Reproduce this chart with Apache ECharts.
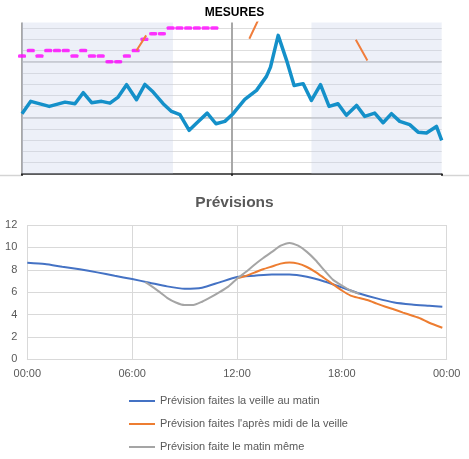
<!DOCTYPE html>
<html>
<head>
<meta charset="utf-8">
<script src="https://cdn.jsdelivr.net/npm/echarts@6/dist/echarts.min.js"></script>
<style>
html,body{margin:0;padding:0;background:#fff;}
#c{width:469px;height:459px;}
</style>
</head>
<body>
<div id="c"></div>
<script>
// ---------- MESURES (top) ----------
const mesureHeures = [0,0.5,1.56,2.46,3.03,3.5,3.98,4.55,5.03,5.5,5.98,6.55,7.03,7.5,8.07,8.55,9.03,9.56,10.11,10.59,11.09,11.6,12.07,12.74,13.41,13.98,14.21,14.65,15.13,15.56,16.08,16.55,17.07,17.56,18.07,18.55,19.13,19.6,20.17,20.65,21.13,21.6,22.17,22.65,23.13,23.7,24];
const mesureValeurs = [5.36,6.46,6.01,6.39,6.25,7.23,6.34,6.46,6.30,6.84,7.95,6.61,7.97,7.29,6.25,5.56,5.27,3.87,4.70,5.41,4.46,4.67,5.36,6.63,7.44,8.69,9.52,12.35,10.12,7.88,8.04,6.54,7.95,6.01,6.25,5.21,6.10,5.12,5.41,4.55,5.36,4.67,4.38,3.71,3.63,4.22,2.97];
const rafaleHeures = [0,0.5,1,1.5,2,2.5,3,3.5,4,4.5,5,5.5,6,6.5,7,7.5,8,8.5,9,9.5,10,10.5,11];
const rafaleValeurs = [10.5,11,10.5,11,11,11,10.5,11,10.5,10.5,10,10,10.5,11,12,12.5,12.5,13,13,13,13,13,13];
const maxHeures = [6.55,7.1,10,13.0,13.5,16,19.09,19.75];
const maxValeurs = [11.0,12.35,'-',12.05,13.7,'-',11.96,10.11];
const nuitDebut = [0,16.55];
const nuitFin = [8.63,24];

// ---------- Prévisions (bottom) ----------
const xLabels = ['00:00','06:00','12:00','18:00','00:00'];
const nomsSeries = ['Prévision faites la veille au matin',"Prévision faites l'après midi de la veille",'Prévision faite le matin même'];
const heuresVeille = [0,1,2,3,4,5,6,7,8,9,10,11,12,13,14,15,16,17,18,19,20,21,22,23,23.75];
const valeursVeille = [8.63,8.51,8.27,8.04,7.77,7.47,7.17,6.85,6.52,6.31,6.4,6.88,7.35,7.47,7.59,7.59,7.38,6.96,6.43,5.89,5.45,5.09,4.91,4.79,4.7];
const heuresApresMidi = [12,12.5,13,13.5,14,14.5,15,15.5,16,16.5,17,17.5,18,18.5,19,19.5,20,20.5,21,21.5,22,22.5,23,23.75];
const valeursApresMidi = [7.25,7.45,7.75,8.05,8.3,8.55,8.65,8.55,8.25,7.8,7.25,6.7,6.15,5.7,5.48,5.28,4.98,4.7,4.45,4.18,3.92,3.65,3.27,2.83];
const heuresMatin = [6.75,7,7.5,8,8.5,9,9.5,10,10.5,11,11.5,12,12.5,13,13.5,14,14.5,15,15.5,16,16.5,17,17.5,18,18.5,19];
const valeursMatin = [6.9,6.65,6.1,5.5,5.08,4.85,4.85,5.15,5.55,6.0,6.5,7.2,7.8,8.45,9.05,9.6,10.15,10.4,10.15,9.6,8.85,7.95,7.1,6.6,6.15,5.85];

const zip = (a, b) => a.map((x, i) => [x, b[i]]);

const chart = echarts.init(document.getElementById('c'));
const font = 'Liberation Sans, Arial, sans-serif';
chart.setOption({
  animation: false,
  backgroundColor: '#ffffff',
  textStyle: { fontFamily: font },
  title: [
    { text: 'MESURES', left: 'center', top: 1.5,
      textStyle: { fontSize: 12, fontWeight: 'bold', color: '#000000', fontFamily: font } },
    { text: 'Prévisions', left: 'center', top: 190,
      textStyle: { fontSize: 15.5, fontWeight: 'bold', color: '#595959', fontFamily: font } }
  ],
  legend: {
    orient: 'vertical', left: 129, top: 394, padding: 0, height: 65,
    data: nomsSeries,
    icon: 'rect', itemWidth: 26, itemHeight: 2, itemGap: 9,
    textStyle: { fontSize: 11, color: '#595959', lineHeight: 14, fontFamily: font }
  },
  graphic: [
    { type: 'line', shape: { x1: 0, y1: 175.5, x2: 21, y2: 175.5 }, style: { stroke: '#d4d4d4', lineWidth: 1.5 } },
    { type: 'line', shape: { x1: 442, y1: 175.5, x2: 469, y2: 175.5 }, style: { stroke: '#d4d4d4', lineWidth: 1.5 } }
  ],
  grid: [
    { left: 22, top: 22.5, right: 27.3, height: 151.2 },
    { left: 27.3, top: 225, right: 22.3, height: 134.4 }
  ],
  xAxis: [
    { type: 'value', gridIndex: 0, min: 0, max: 24, interval: 12,
      axisLabel: { show: false },
      axisLine: { show: true, lineStyle: { color: '#262626', width: 1.5 } },
      axisTick: { show: true, length: 2, lineStyle: { color: '#262626', width: 2 } },
      splitLine: { show: true, showMaxLine: false, lineStyle: { color: '#a8a8a8', width: 2 } } },
    { type: 'value', gridIndex: 1, min: 0, max: 24, interval: 6,
      axisLabel: { fontSize: 11, color: '#595959', margin: 9,
        formatter: v => xLabels[Math.round(v / 6)] },
      axisLine: { show: true, lineStyle: { color: '#d9d9d9', width: 1 } },
      axisTick: { show: false },
      splitLine: { show: true, lineStyle: { color: '#d9d9d9', width: 1 } } }
  ],
  yAxis: [
    { type: 'value', gridIndex: 0, min: 0, max: 13.5, interval: 1,
      axisLabel: { show: false }, axisLine: { show: false }, axisTick: { show: false },
      splitLine: { show: true, showMinLine: false, showMaxLine: false, lineStyle: { color: '#dedede', width: 1 } } },
    { type: 'value', gridIndex: 0, min: 0, max: 13.5, interval: 5, position: 'left',
      axisLabel: { show: false }, axisLine: { show: false }, axisTick: { show: false },
      splitLine: { show: true, showMinLine: false, showMaxLine: false, lineStyle: { color: '#c4c4c4', width: 1.5 } } },
    { type: 'value', gridIndex: 1, min: 0, max: 12, interval: 2,
      axisLabel: { fontSize: 11, color: '#595959', margin: 10 },
      axisLine: { show: false }, axisTick: { show: false },
      splitLine: { show: true, lineStyle: { color: '#d9d9d9', width: 1 } } }
  ],
  series: [
    { name: 'max', type: 'line', xAxisIndex: 0, yAxisIndex: 0, showSymbol: false, symbol: 'none',
      data: zip(maxHeures, maxValeurs), connectNulls: false,
      lineStyle: { color: '#f07d3c', width: 2 }, itemStyle: { color: '#f07d3c' }, silent: true },
    { name: 'rafale', type: 'scatter', xAxisIndex: 0, yAxisIndex: 0,
      data: zip(rafaleHeures, rafaleValeurs), symbol: 'roundRect', symbolSize: [8, 3.5],
      itemStyle: { color: '#ff00ff' }, silent: true },
    { name: 'vent', type: 'line', xAxisIndex: 0, yAxisIndex: 0, symbol: 'none',
      data: zip(mesureHeures, mesureValeurs),
      lineStyle: { color: '#1490c9', width: 3.5, join: 'round' }, itemStyle: { color: '#1490c9' }, silent: true,
      markArea: { silent: true, itemStyle: { color: 'rgba(195,205,232,0.3)' },
        data: nuitDebut.map((d, i) => [{ xAxis: d }, { xAxis: nuitFin[i] }]) } },
    { name: nomsSeries[0], type: 'line', xAxisIndex: 1, yAxisIndex: 2, symbol: 'none', smooth: 0.2,
      data: zip(heuresVeille, valeursVeille), color: '#4472c4',
      lineStyle: { color: '#4472c4', width: 2 } },
    { name: nomsSeries[1], type: 'line', xAxisIndex: 1, yAxisIndex: 2, symbol: 'none', smooth: 0.2,
      data: zip(heuresApresMidi, valeursApresMidi), color: '#ed7d31',
      lineStyle: { color: '#ed7d31', width: 2 } },
    { name: nomsSeries[2], type: 'line', xAxisIndex: 1, yAxisIndex: 2, symbol: 'none', smooth: 0.2,
      data: zip(heuresMatin, valeursMatin), color: '#a5a5a5',
      lineStyle: { color: '#a5a5a5', width: 2 } }
  ]
});
</script>
</body>
</html>
